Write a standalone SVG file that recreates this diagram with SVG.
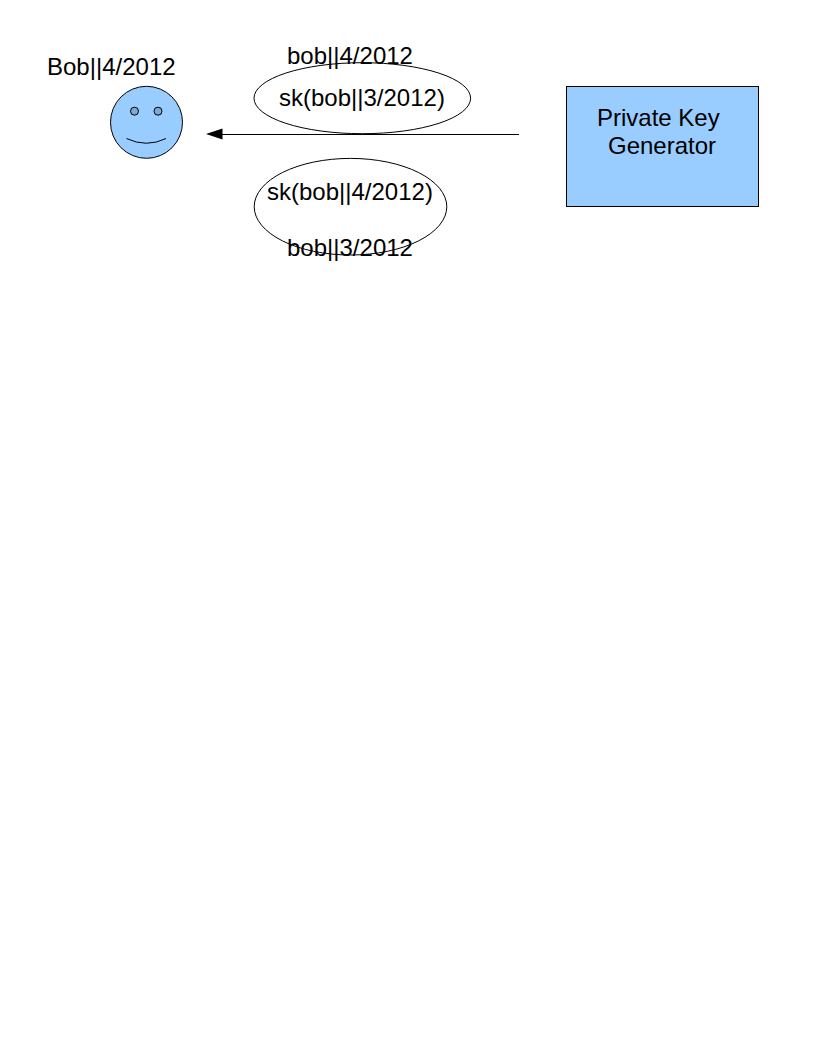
<svg xmlns="http://www.w3.org/2000/svg" width="816" height="1056" viewBox="0 0 816 1056">
<style>
text{font-family:"Liberation Sans",Arial,sans-serif;font-size:24px;fill:#000}
.s{stroke:#000;stroke-width:1}
.eye{fill:#7faad4}
</style>
<rect width="816" height="1056" fill="#fff"/>
<g id="connectors"><path d="M519 134.500H222" class="s" fill="none"/><path d="M206 134L222.500 128.500V139.500Z" fill="#000"/></g>
<g id="bob"><circle cx="146.500" cy="122.300" r="36" fill="#99ccff" class="s"/><circle cx="134.500" cy="111.200" r="4" class="s eye"/><circle cx="158" cy="111.200" r="4" class="s eye"/><path d="M126.500 138.500Q146.500 148 166 138.500" fill="none" class="s"/><text x="47" y="75">Bob||4/2012</text></g>
<g id="msg1"><ellipse cx="362.300" cy="98.200" rx="108.300" ry="35.500" fill="#fff" class="s"/><text x="287" y="64">bob||4/2012</text><text x="279" y="106">sk(bob||3/2012)</text></g>
<g id="msg2"><ellipse cx="350.500" cy="206.700" rx="96.300" ry="48.300" fill="#fff" class="s"/><text x="267" y="200">sk(bob||4/2012)</text><text x="287" y="256">bob||3/2012</text></g>
<g id="pkg"><rect x="566.500" y="86.500" width="192" height="120" fill="#99ccff" class="s"/><text x="597" y="126">Private Key</text><text x="608" y="154">Generator</text></g>
</svg>
